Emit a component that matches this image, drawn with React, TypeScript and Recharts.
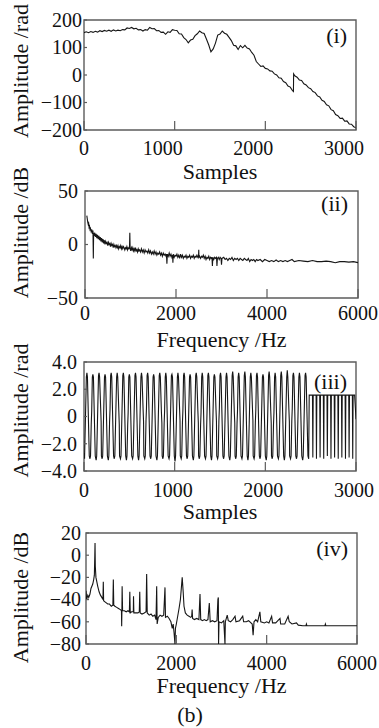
import React from "react";
import { LineChart, Line, XAxis, YAxis, ReferenceArea } from "recharts";

const FONT = '"Liberation Serif", "Times New Roman", serif';
const INK = "#161616";
const FRAME = "#5c5c5c";

// (i) unwrapped phase [sample, rad]
const unwrapped: [number, number][] = [
  [0, 154], [25, 157], [50, 154], [75, 158], [100, 155], [125, 159], [150, 156],
  [175, 161], [200, 158], [225, 162], [250, 159], [275, 163], [300, 159], [325, 164],
  [350, 160], [375, 163], [400, 161], [425, 165], [450, 164], [475, 171], [500, 169],
  [525, 173], [550, 168], [575, 170], [600, 164], [625, 165], [650, 160], [675, 165],
  [700, 163], [725, 173], [750, 168], [775, 169], [800, 161], [825, 162], [850, 155],
  [875, 156], [900, 148], [925, 157], [950, 155], [975, 165], [1000, 163], [1025, 162],
  [1050, 150], [1075, 149], [1100, 136], [1125, 129], [1150, 117], [1175, 127],
  [1200, 130], [1225, 143], [1250, 150], [1275, 160], [1300, 154], [1325, 151],
  [1350, 131], [1375, 110], [1400, 84], [1425, 95], [1450, 116], [1475, 145],
  [1500, 149], [1525, 160], [1550, 152], [1575, 148], [1600, 137], [1625, 125],
  [1650, 108], [1675, 106], [1700, 93], [1725, 107], [1750, 99], [1775, 108],
  [1800, 98], [1825, 95], [1850, 82], [1875, 72], [1900, 49], [1925, 40], [1950, 31],
  [1975, 33], [2000, 24], [2025, 22], [2050, 15], [2075, 14], [2100, 4], [2125, 0],
  [2150, -10], [2175, -12], [2200, -24], [2225, -28], [2250, -40], [2275, -44],
  [2300, -57], [2310, -60], [2312, 4], [2325, -3], [2350, -8], [2375, -18],
  [2400, -20], [2425, -32], [2450, -36], [2475, -46], [2500, -50], [2525, -60],
  [2550, -64], [2575, -76], [2600, -80], [2625, -92], [2650, -96], [2675, -108],
  [2700, -112], [2725, -126], [2750, -130], [2775, -144], [2800, -148], [2825, -158],
  [2850, -157], [2875, -168], [2900, -167], [2925, -178], [2950, -179], [2975, -188],
  [3000, -192],
];

// (ii) spectrum of (i) [Hz, dB]
const spectrumA: [number, number][] = [
  [40, 27], [50, 24], [60, 21], [70, 19], [80, 20], [90, 16], [100, 17], [110, 14],
  [120, 15], [135, 12], [150, 14], [165, 10], [175, 13], [183, -13], [190, 11],
  [200, 8], [215, 11], [230, 7], [245, 10], [260, 6], [275, 9], [290, 5], [305, 8],
  [320, 4], [335, 7], [350, 3], [365, 6], [380, 2], [395, 5], [410, 1], [425, 4],
  [440, 0], [455, 3], [470, 1], [485, 2], [500, -1], [515, 2], [530, 0], [545, 1],
  [560, -2], [575, 1], [590, -1], [605, 0], [620, -3], [635, 0], [650, -2], [665, -1],
  [680, -3], [695, -1], [710, -3], [725, -1], [740, -4], [755, -2], [770, -3],
  [785, -1], [800, -4], [815, -2], [830, -4], [845, -2], [860, -3], [875, -5],
  [890, -3], [905, -4], [920, -2], [935, -5], [950, -3], [965, -4], [978, -3],
  [985, 11], [992, -4], [1005, -6], [1020, -3], [1035, -5], [1050, -3], [1065, -6],
  [1080, -4], [1095, -6], [1110, -3], [1125, -6], [1140, -5], [1155, -7], [1170, -4],
  [1185, -6], [1200, -5], [1220, -7], [1240, -4], [1260, -7], [1280, -5], [1300, -8],
  [1320, -5], [1340, -7], [1360, -6], [1380, -8], [1400, -5], [1420, -8], [1440, -6],
  [1460, -9], [1480, -7], [1500, -9], [1520, -6], [1540, -9], [1560, -7], [1580, -10],
  [1600, -8], [1620, -9], [1640, -7], [1660, -10], [1680, -8], [1700, -11], [1720, -8],
  [1740, -10], [1760, -9], [1780, -11], [1790, -9], [1800, -18], [1810, -9],
  [1830, -11], [1850, -8], [1870, -11], [1890, -9], [1910, -12], [1925, -10],
  [1932, -17], [1940, -9], [1960, -12], [1980, -10], [2000, -11], [2020, -9],
  [2040, -12], [2060, -10], [2080, -13], [2100, -9], [2120, -12], [2140, -10],
  [2160, -13], [2180, -11], [2200, -12], [2220, -10], [2240, -13], [2260, -11],
  [2280, -12], [2300, -10], [2320, -13], [2340, -11], [2360, -12], [2380, -10],
  [2400, -13], [2420, -11], [2440, -12], [2460, -10], [2480, -12], [2495, -11],
  [2500, -5], [2505, -12], [2520, -11], [2540, -13], [2560, -11], [2580, -12],
  [2600, -10], [2620, -13], [2640, -11], [2660, -14], [2680, -12], [2700, -13],
  [2720, -11], [2740, -14], [2760, -12], [2780, -13], [2790, -12], [2800, -20],
  [2810, -12], [2830, -14], [2850, -12], [2870, -13], [2890, -12], [2900, -20],
  [2910, -13], [2930, -12], [2950, -14], [2970, -12], [2990, -13], [3000, -19],
  [3010, -13], [3050, -12], [3080, -14], [3110, -13], [3140, -15], [3170, -13],
  [3200, -14], [3230, -12], [3260, -15], [3290, -13], [3320, -14], [3350, -13],
  [3380, -15], [3410, -13], [3440, -14], [3470, -15], [3500, -13], [3530, -14],
  [3560, -15], [3590, -13], [3620, -16], [3650, -14], [3680, -15], [3710, -14],
  [3740, -16], [3770, -14], [3800, -15], [3850, -14], [3900, -16], [3950, -14],
  [4000, -15], [4050, -16], [4100, -15], [4150, -16], [4200, -14.5], [4250, -16],
  [4300, -15], [4350, -16], [4400, -15], [4450, -16], [4500, -15], [4550, -14],
  [4600, -16], [4700, -15], [4800, -15.5], [4900, -16], [5000, -15], [5100, -16],
  [5200, -16], [5300, -15.5], [5400, -16], [5500, -17], [5600, -16], [5700, -16],
  [5800, -16.5], [5900, -16], [6000, -17],
];

// (iii) wrapped phase [sample, rad]
const wrapped: [number, number][] = [
  [0, -2.7], [6, -3.1], [26, 2.9], [32, 3.2], [38, 2.9], [58, -2.9],
  [66, -3.1], [72, -2.9], [80, -0.5], [85, 0.4], [92, 2.9], [98, 3.1], [104, 2.9], [124, -2.9],
  [134, -3.2], [140, -2.9], [160, 3.0], [166, 3.2], [172, 2.9], [184, 0.6], [189, -0.4], [192, -2.9],
  [200, -3.1], [206, -2.9], [226, 2.9], [232, 3.1], [238, 2.9], [258, -2.9],
  [268, -3.2], [274, -2.9], [282, -0.4], [287, 0.5], [294, 3.0], [300, 3.2], [306, 2.9], [326, -2.9],
  [334, -3.1], [340, -2.9], [360, 2.9], [366, 3.2], [372, 2.9], [384, 0.4], [389, -0.6], [392, -2.9],
  [402, -3.1], [408, -2.9], [428, 3.0], [434, 3.2], [440, 2.9], [460, -2.9],
  [468, -3.2], [474, -2.9], [482, -0.6], [487, 0.3], [494, 2.9], [500, 3.1], [506, 2.9], [526, -2.9],
  [536, -3.1], [542, -2.9], [562, 3.0], [568, 3.2], [574, 2.9], [594, -2.9],
  [602, -3.2], [608, -2.9], [628, 2.9], [634, 3.2], [640, 2.9], [652, 0.5], [657, -0.4], [660, -2.9],
  [670, -3.1], [676, -2.9], [684, -0.3], [689, 0.6], [696, 3.0], [702, 3.2], [708, 2.9], [728, -2.9],
  [736, -3.1], [742, -2.9], [762, 2.9], [768, 3.1], [774, 2.9], [794, -2.9],
  [804, -3.2], [810, -2.9], [830, 3.0], [836, 3.2], [842, 2.9], [854, 0.3], [859, -0.5], [862, -2.9],
  [870, -3.1], [876, -2.9], [884, -0.5], [889, 0.4], [896, 2.9], [902, 3.2], [908, 2.9], [928, -2.9],
  [938, -3.1], [944, -2.9], [964, 3.0], [970, 3.1], [976, 2.9], [996, -2.9],
  [1004, -3.3], [1010, -2.9], [1030, 2.9], [1036, 3.2], [1042, 2.9], [1054, 0.6], [1059, -0.3], [1062, -2.9],
  [1072, -3.1], [1078, -2.9], [1086, -0.4], [1091, 0.5], [1098, 3.0], [1104, 3.2], [1110, 2.9], [1130, -2.9],
  [1138, -3.1], [1144, -2.9], [1164, 2.9], [1170, 3.1], [1176, 2.9], [1196, -2.9],
  [1206, -3.2], [1212, -2.9], [1232, 3.0], [1238, 3.2], [1244, 2.9], [1256, 0.4], [1261, -0.5], [1264, -2.9],
  [1272, -3.1], [1278, -2.9], [1286, -0.6], [1291, 0.3], [1298, 2.9], [1304, 3.2], [1310, 2.9], [1330, -2.9],
  [1340, -3.1], [1346, -2.9], [1366, 3.0], [1372, 3.2], [1378, 2.9], [1398, -2.9],
  [1406, -3.2], [1412, -2.9], [1432, 2.9], [1438, 3.1], [1444, 2.9], [1456, 0.5], [1461, -0.4], [1464, -2.9],
  [1474, -3.1], [1480, -2.9], [1488, -0.3], [1493, 0.6], [1500, 3.0], [1506, 3.2], [1512, 2.9], [1532, -2.9],
  [1540, -3.1], [1546, -2.9], [1566, 2.9], [1572, 3.2], [1578, 2.9], [1598, -2.9],
  [1608, -3.2], [1614, -2.9], [1634, 3.0], [1640, 3.3], [1646, 2.9], [1658, 0.3], [1663, -0.5], [1666, -2.9],
  [1674, -3.1], [1680, -2.9], [1688, -0.5], [1693, 0.4], [1700, 2.9], [1706, 3.2], [1712, 2.9], [1732, -2.9],
  [1742, -3.1], [1748, -2.9], [1768, 3.0], [1774, 3.3], [1780, 2.9], [1800, -2.9],
  [1808, -3.2], [1814, -2.9], [1834, 2.9], [1840, 3.2], [1846, 2.9], [1858, 0.6], [1863, -0.3], [1866, -2.9],
  [1876, -3.1], [1882, -2.9], [1890, -0.4], [1895, 0.5], [1902, 3.0], [1908, 3.2], [1914, 2.9], [1934, -2.9],
  [1942, -3.1], [1948, -2.9], [1968, 2.9], [1974, 3.1], [1980, 2.9], [2000, -2.9],
  [2010, -3.2], [2016, -2.9], [2036, 3.0], [2042, 3.3], [2048, 2.9], [2060, 0.4], [2065, -0.5], [2068, -2.9],
  [2076, -3.1], [2082, -2.9], [2090, -0.6], [2095, 0.3], [2102, 2.9], [2108, 3.2], [2114, 2.9], [2134, -2.9],
  [2144, -3.1], [2150, -2.9], [2170, 3.0], [2176, 3.3], [2182, 2.9], [2202, -2.9],
  [2210, -3.2], [2216, -2.9], [2236, 2.9], [2242, 3.4], [2248, 2.9], [2260, 0.5], [2265, -0.4], [2268, -2.9],
  [2278, -3.1], [2284, -2.9], [2292, -0.3], [2297, 0.6], [2304, 3.0], [2310, 3.2], [2316, 2.9], [2336, -2.9],
  [2344, -3.1], [2350, -2.9], [2370, 2.9], [2376, 3.2], [2382, 2.9], [2402, -2.9],
  [2412, -3.2], [2418, -2.9], [2438, 3.0], [2444, 3.2], [2450, 2.9], [2470, -2.9],
  [2478, -3.1], [2484, 1.57], [2520, 1.57], [2524, -3.0], [2528, 1.57], [2560, 1.57],
  [2564, -3.1], [2568, 1.57], [2600, 1.57], [2604, -3.0], [2608, 1.57], [2640, 1.57],
  [2644, -3.1], [2648, 1.57], [2680, 1.57], [2684, -2.9], [2688, 1.57], [2720, 1.57],
  [2724, -3.1], [2728, 1.57], [2760, 1.57], [2764, -3.0], [2768, 1.57], [2800, 1.57],
  [2804, -3.1], [2808, 1.57], [2840, 1.57], [2844, -3.0], [2848, 1.57], [2880, 1.57],
  [2884, -3.1], [2888, 1.57], [2920, 1.57], [2924, -3.0], [2928, 1.57], [2960, 1.57],
  [2964, -3.1], [2968, 1.57], [2985, 1.57], [2995, 0.4], [3000, -0.2],
];

// (iv) spectrum of (iii) [Hz, dB]
const spectrumB: [number, number][] = [
  [0, -32], [15, -40], [40, -36], [60, -38], [88, -35], [110, -30], [130, -28],
  [150, -26], [170, -22], [185, -18], [195, 0], [200, 11], [206, -10], [220, -20],
  [240, -24], [260, -28], [290, -33], [320, -36], [350, -38], [375, -40], [383, -24],
  [390, -41], [420, -42], [450, -43], [480, -44], [520, -44], [560, -46], [595, -45],
  [605, -22], [615, -45], [640, -46], [680, -47], [720, -48], [760, -49], [785, -50],
  [790, -64], [795, -50], [800, -28], [810, -50], [850, -50], [890, -51], [930, -50],
  [960, -51], [970, -33], [980, -52], [1010, -51], [1048, -51], [1052, -37],
  [1060, -52], [1100, -52], [1150, -52], [1180, -51], [1190, -33], [1200, -52],
  [1240, -53], [1290, -52], [1330, -51], [1343, -17], [1356, -52], [1400, -54],
  [1440, -53], [1480, -55], [1520, -54], [1550, -58], [1565, -28], [1575, -62],
  [1600, -56], [1640, -54], [1680, -55], [1720, -54], [1749, -29], [1760, -56],
  [1800, -55], [1840, -57], [1880, -60], [1910, -66], [1930, -62], [1950, -70],
  [1970, -80], [1980, -66], [2000, -62], [2030, -55], [2060, -48], [2090, -40],
  [2110, -30], [2130, -20], [2150, -32], [2170, -46], [2200, -52], [2240, -54],
  [2280, -55], [2320, -56], [2340, -55], [2350, -49], [2360, -57], [2400, -58],
  [2450, -57], [2500, -58], [2524, -35], [2540, -58], [2580, -59], [2620, -58],
  [2660, -59], [2700, -58], [2730, -43], [2750, -60], [2800, -59], [2850, -60],
  [2900, -59], [2920, -40], [2930, -38], [2935, -80], [2945, -60], [3000, -61],
  [3050, -59], [3077, -80], [3085, -60], [3127, -54], [3150, -59], [3200, -60],
  [3250, -58], [3300, -55], [3320, -60], [3400, -59], [3470, -55], [3490, -60],
  [3550, -60], [3600, -59], [3680, -62], [3700, -72], [3720, -60], [3760, -58],
  [3800, -60], [3850, -51], [3870, -60], [3950, -61], [4000, -60], [4050, -61],
  [4110, -55], [4130, -61], [4200, -61], [4295, -57], [4310, -62], [4400, -62],
  [4475, -55], [4500, -60], [4560, -62], [4660, -61], [4700, -63], [4800, -63.5],
  [4870, -63.5], [4880, -62], [4890, -63.5], [5000, -63.5], [5290, -63.5],
  [5300, -62], [5310, -63.5], [6000, -63.5],
];

const sampleTicks = [0, 1000, 2000, 3000];
const freqTicks = [0, 2000, 4000, 6000];
const ticksI = [-200, -100, 0, 100, 200];
const ticksII = [-50, 0, 50];
const ticksIII = [-4, -2, 0, 2, 4];
const ticksIV = [-80, -60, -40, -20, 0, 20];

const withMinus = (s: string) => s.replace("-", "\u2212");

interface PanelProps {
  data: [number, number][];
  top: number;
  height: number;
  marginTop: number;
  marginRight: number;
  yWidth: number;
  xHeight: number;
  xDomain: [number, number];
  xTicks: number[];
  yDomain: [number, number];
  yTicks: number[];
  yFormat: (v: number) => string;
  xTitle: string;
  yTitle: string;
  tag: string;
  tagRight: number;
  tagBase: number;
  labelShift: number;
  tickBase: number;
  titleBase: number;
  yGap: number;
  yTitleShift: number;
  footer?: string;
}

function Panel(p: PanelProps) {
  const rows = p.data.map(([x, y]) => ({ x, y }));
  const plotH = p.height - p.marginTop - p.xHeight;
  const plotW = 379 - p.yWidth - p.marginRight;
  const plotBottom = p.marginTop + plotH;
  const cx = p.yWidth + plotW / 2;
  const ty = p.marginTop + plotH / 2 + p.yTitleShift;

  const xTick = (props: any) => {
    const { x, y, payload } = props;
    const v = payload.value;
    return (
      <g>
        <line x1={x} x2={x} y1={y} y2={y - 9} stroke={FRAME} strokeWidth={1.2} />
        <text x={x + (v === 0 ? 0 : p.labelShift)} y={y + p.tickBase} textAnchor="middle"
          fontFamily={FONT} fontSize={20} fill="#111">{v}</text>
      </g>
    );
  };

  const yTick = (props: any) => {
    const { x, y, payload } = props;
    return (
      <g>
        <line x1={x} x2={x + 3} y1={y} y2={y} stroke={FRAME} strokeWidth={1.2} />
        <text x={x - p.yGap} y={y} dy="0.34em" textAnchor="end" fontFamily={FONT}
          fontSize={20} fill="#111">{withMinus(p.yFormat(payload.value))}</text>
      </g>
    );
  };

  const xTitle = () => (
    <g>
      <text x={cx} y={plotBottom + p.titleBase} textAnchor="middle" fontFamily={FONT}
        fontSize={22} fill="#111">{p.xTitle}</text>
      {p.footer && (
        <text x={190} y={plotBottom + 78} textAnchor="middle" fontFamily={FONT}
          fontSize={22} fill="#111">{p.footer}</text>
      )}
    </g>
  );

  const yTitle = () => (
    <text x={28} y={ty} transform={`rotate(-90 28 ${ty})`} textAnchor="middle"
      fontFamily={FONT} fontSize={22} fill="#111">{p.yTitle}</text>
  );

  const tag = () => (
    <text x={p.yWidth + plotW - p.tagRight} y={p.marginTop + p.tagBase} textAnchor="end"
      fontFamily={FONT} fontSize={22} fill="#111">{p.tag}</text>
  );

  return (
    <div style={{ position: "absolute", left: 0, top: p.top }}>
      <LineChart width={379} height={p.height} data={rows}
        margin={{ top: p.marginTop, right: p.marginRight, bottom: 0, left: 0 }}>
        <XAxis dataKey="x" type="number" domain={p.xDomain} ticks={p.xTicks} interval={0}
          allowDataOverflow height={p.xHeight} axisLine={false} tickLine={false}
          tickSize={0} tickMargin={0} tick={xTick} label={{ content: xTitle }} />
        <YAxis type="number" domain={p.yDomain} ticks={p.yTicks} interval={0}
          allowDataOverflow width={p.yWidth} axisLine={false} tickLine={false}
          tickSize={0} tickMargin={0} tick={yTick} label={{ content: yTitle }} />
        <ReferenceArea x1={p.xDomain[0]} x2={p.xDomain[1]} y1={p.yDomain[0]} y2={p.yDomain[1]}
          fill="none" fillOpacity={0} stroke={FRAME} strokeWidth={1.4} label={{ content: tag }} />
        <Line dataKey="y" type="linear" stroke={INK} strokeWidth={1.1} dot={false}
          isAnimationActive={false} />
      </LineChart>
    </div>
  );
}

export default function App() {
  return (
    <div style={{ position: "absolute", left: 0, top: 0, width: 379, height: 728, background: "#fff" }}>
      <Panel data={unwrapped} top={0} height={188} marginTop={20} marginRight={23} yWidth={84}
        xHeight={58} xDomain={[0, 3000]} xTicks={sampleTicks} yDomain={[-200, 200]} yTicks={ticksI}
        yFormat={(v) => String(v)} xTitle="Samples" yTitle="Amplitude /rad" tag="(i)" tagRight={9}
        tagBase={23} labelShift={-12} tickBase={25} titleBase={49} yGap={2} yTitleShift={-4} />
      <Panel data={spectrumA} top={160} height={195} marginTop={31} marginRight={21} yWidth={85}
        xHeight={57} xDomain={[0, 6000]} xTicks={freqTicks} yDomain={[-50, 50]} yTicks={ticksII}
        yFormat={(v) => String(v)} xTitle="Frequency /Hz" yTitle="Amplitude /dB" tag="(ii)" tagRight={10}
        tagBase={20} labelShift={0} tickBase={22} titleBase={49} yGap={7} yTitleShift={-12} />
      <Panel data={wrapped} top={335} height={195} marginTop={27} marginRight={23} yWidth={84}
        xHeight={59} xDomain={[0, 3000]} xTicks={sampleTicks} yDomain={[-4, 4]} yTicks={ticksIII}
        yFormat={(v) => (v === 0 ? "0" : v.toFixed(1))} xTitle="Samples" yTitle="Amplitude /rad"
        tag="(iii)" tagRight={9} tagBase={27} labelShift={-2} tickBase={26} titleBase={48} yGap={7}
        yTitleShift={-6} />
      <Panel data={spectrumB} top={510} height={218} marginTop={23} marginRight={22} yWidth={86}
        xHeight={84} xDomain={[0, 6000]} xTicks={freqTicks} yDomain={[-80, 20]} yTicks={ticksIV}
        yFormat={(v) => String(v)} xTitle="Frequency /Hz" yTitle="Amplitude /dB" tag="(iv)" tagRight={9}
        tagBase={23} labelShift={0} tickBase={26} titleBase={49} yGap={5} yTitleShift={9} footer="(b)" />
    </div>
  );
}
